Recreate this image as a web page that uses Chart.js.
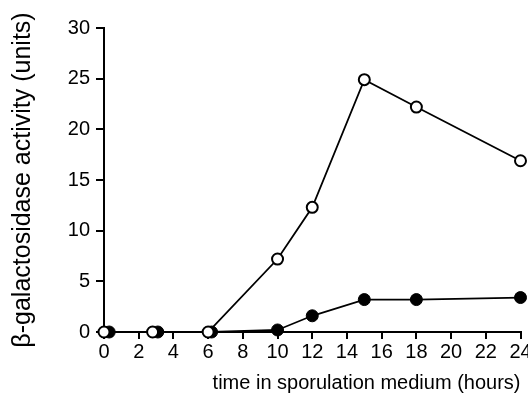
<!DOCTYPE html>
<html lang="en">
<head>
    <meta charset="UTF-8">
    <title>beta-galactosidase activity</title>
    <script src="https://cdn.jsdelivr.net/npm/chart.js"></script>
    <style>
        html, body { margin: 0; padding: 0; background: #fff; }
        #wrap { width: 528px; height: 409px; position: relative; }
    </style>
</head>
<body>
    <div id="wrap"><canvas id="activityChart"></canvas></div>

    <script>
        // time points (hours) and activity (units)
        const openHours = [0, 2.8, 6, 10, 12, 15, 18, 24];
        const openActivity = [0, 0, 0, 7.2, 12.3, 24.9, 22.2, 16.9];
        const filledHours = [0.3, 3.1, 6.2, 10, 12, 15, 18, 24];
        const filledActivity = [0, 0, 0, 0.2, 1.6, 3.2, 3.2, 3.4];
        const xTicks = [0, 2, 4, 6, 8, 10, 12, 14, 16, 18, 20, 22, 24];
        const yTicks = [0, 5, 10, 15, 20, 25, 30];

        const toPoints = (xs, ys) => xs.map((x, i) => ({ x: x, y: ys[i] }));
        const font = "'Liberation Sans', Arial, sans-serif";

        new Chart(document.getElementById("activityChart"), {
            type: "line",
            data: {
                datasets: [
                    {
                        label: "open",
                        data: toPoints(openHours, openActivity),
                        borderColor: "#000",
                        borderWidth: 1.8,
                        pointBackgroundColor: "#fff",
                        pointBorderColor: "#000",
                        pointBorderWidth: 2,
                        pointRadius: 5.5,
                        tension: 0,
                        clip: false
                    },
                    {
                        label: "filled",
                        data: toPoints(filledHours, filledActivity),
                        borderColor: "#000",
                        borderWidth: 1.8,
                        pointBackgroundColor: "#000",
                        pointBorderColor: "#000",
                        pointBorderWidth: 1,
                        pointRadius: 6,
                        tension: 0,
                        clip: false
                    }
                ]
            },
            options: {
                responsive: true,
                maintainAspectRatio: false,
                animation: false,
                layout: { padding: { top: 28, right: 7, left: 0, bottom: 0 } },
                plugins: { legend: { display: false }, tooltip: { enabled: false } },
                scales: {
                    x: {
                        type: "linear",
                        min: 0,
                        max: 24,
                        afterBuildTicks: s => { s.ticks = xTicks.map(v => ({ value: v })); },
                        afterFit: s => { s.height = 77; s.paddingLeft = 0; s.paddingRight = 0; },
                        border: { color: "#000", width: 2 },
                        grid: { drawOnChartArea: false, drawTicks: true, tickLength: 7, color: "#000", lineWidth: 2 },
                        ticks: { color: "#000", font: { family: font, size: 20 }, padding: 1, maxRotation: 0 },
                        title: {
                            display: true,
                            text: "time in sporulation medium (hours)",
                            color: "#000",
                            align: "end",
                            font: { family: font, size: 20 },
                            padding: { top: 0, bottom: 14 }
                        }
                    },
                    y: {
                        min: 0,
                        max: 30,
                        afterBuildTicks: s => { s.ticks = yTicks.map(v => ({ value: v })); },
                        afterFit: s => { s.width = 104; },
                        border: { color: "#000", width: 2 },
                        grid: { drawOnChartArea: false, drawTicks: true, tickLength: 8, color: "#000", lineWidth: 2 },
                        ticks: { color: "#000", font: { family: font, size: 20 }, padding: 6 },
                        title: {
                            display: true,
                            text: "β-galactosidase activity (units)",
                            color: "#000",
                            font: { family: font, size: 25 },
                            padding: { top: 8, bottom: 0 }
                        }
                    }
                }
            }
        });
    </script>
</body>
</html>
